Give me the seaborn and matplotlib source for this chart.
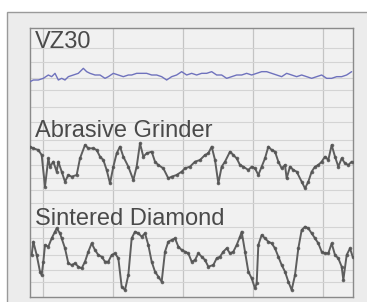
import matplotlib
matplotlib.use("Agg")
import matplotlib.pyplot as plt
import seaborn as sns
import pandas as pd
from matplotlib.patches import Rectangle

# ---- data (positions and profile heights, arbitrary units) ----
vz30_x = [90, 100, 115, 130, 145, 155, 165, 175, 185, 195, 205, 220, 235, 250, 260, 270, 285, 300, 315, 325,
          340, 355, 370, 385, 395, 410, 425, 440, 455, 470, 485, 500, 515, 530, 545, 560, 575, 590, 605, 620,
          635, 650, 665, 680, 695, 710, 725, 740, 755, 770, 785, 800, 815, 830, 845, 860, 875, 890, 905, 920,
          935, 950, 965, 980, 995, 1010, 1025, 1040, 1055]
vz30_h = [-20, -15, -15, -10, 0, -5, 5, -15, -10, -15, -5, 0, 5, 20, 10, 5, 0, 0, -10, -5,
          5, 0, -5, 0, 0, 5, 5, 5, 0, 0, -5, -15, -5, 0, 10, 0, 5, 0, 5, 5,
          10, 0, 0, -10, -5, 0, 0, 5, 0, 5, 10, 10, 5, 0, -5, 5, 0, -5, 0, -5,
          -10, -5, 0, -10, -10, -5, -5, 0, 10]

abr_x = [90, 100, 115, 125, 135, 145, 150, 160, 170, 175, 185, 195, 205, 215, 230, 240, 255, 265, 280, 290,
         300, 310, 320, 330, 340, 350, 360, 370, 385, 400, 410, 420, 430, 440, 455, 465, 475, 490, 505, 515,
         530, 545, 555, 570, 585, 600, 615, 625, 635, 645, 655, 665, 675, 690, 700, 710, 720, 730, 745, 755,
         765, 775, 785, 795, 805, 815, 825, 835, 845, 855, 860, 870, 880, 890, 905, 915, 925, 935, 945, 955,
         965, 975, 985, 995, 1005, 1015, 1025, 1035, 1045, 1055]
abr_h = [60, 55, 50, 35, -60, 25, 0, 15, -15, 15, -15, -45, -25, -30, -25, 25, 65, 55, 55, 50,
         30, 20, -10, -50, 0, 40, 60, 30, 0, -40, 0, 70, 30, 40, 45, 15, 5, -5, -35, -30,
         -25, -15, -5, 0, 15, 20, 35, 40, 60, 20, -50, 0, 15, 45, 35, 25, 5, 0, -10, 0,
         -5, -25, 0, 25, 60, 50, 45, 15, -5, 5, -35, 0, -10, -15, -45, -65, -45, -15, 0, 5,
         15, 30, 20, 65, 30, 0, 25, 10, 5, 15]

sin_x = [95, 100, 110, 120, 125, 130, 135, 145, 155, 165, 170, 180, 185, 195, 205, 215, 225, 235, 245, 255,
         265, 275, 285, 295, 305, 315, 325, 335, 345, 355, 365, 375, 385, 395, 405, 415, 425, 435, 445, 455,
         465, 475, 485, 495, 505, 515, 525, 535, 545, 555, 565, 575, 585, 595, 605, 615, 625, 640, 650, 660,
         670, 680, 690, 700, 710, 720, 725, 735, 745, 755, 765, 770, 775, 785, 795, 805, 815, 825, 835, 845,
         855, 865, 875, 885, 895, 905, 915, 925, 935, 945, 955, 965, 975, 985, 995, 1005, 1015, 1025, 1030, 1040,
         1050, 1058]
sin_h = [0, 40, 0, -50, -60, -20, 30, 25, 50, 70, 80, 65, 50, 20, -25, -30, -25, -35, -40, -20,
         10, 35, 15, 0, -5, -20, -20, 0, 5, -10, -95, -105, -60, 50, 70, 65, 55, 65, 30, -20,
         -50, -65, -80, 10, 40, 45, 50, 25, 15, 10, 5, -20, -15, 5, -5, -15, -35, -30, -10, -5,
         10, 20, 5, 10, 30, 55, 70, 10, -50, -70, -100, -85, 30, 60, 50, 40, 35, 20, -5, -30,
         -50, -80, -105, -60, 20, 75, 85, 80, 65, 50, 35, 10, 5, 5, 35, 0, -10, -35, -75, 0,
         20, -5]

labels = ["VZ30", "Abrasive Grinder", "Sintered Diamond"]

# ---- layout constants ----
W, H = 367, 302
offsets = {"VZ30": 225, "Abrasive Grinder": 500, "Sintered Diamond": 765}
colors = {"VZ30": "#6f72bd", "Abrasive Grinder": "#5e5e5e", "Sintered Diamond": "#5e5e5e"}
label_y = {"VZ30": 145, "Abrasive Grinder": 411, "Sintered Diamond": 675}

frames = []
for name, xs, hs in [("VZ30", vz30_x, vz30_h),
                     ("Abrasive Grinder", abr_x, abr_h),
                     ("Sintered Diamond", sin_x, sin_h)]:
    frames.append(pd.DataFrame({"pos": xs, "height": hs, "sample": name}))
df = pd.concat(frames, ignore_index=True)
df["plot_y"] = df["sample"].map(offsets) - df["height"]

sns.set_theme(style="white")
plt.rcParams["font.family"] = ["Liberation Sans", "DejaVu Sans"]

fig = plt.figure(figsize=(W / 100, H / 100), dpi=100)
fig.patch.set_facecolor("white")
# outer light-grey card
card = Rectangle((7 / W, -0.05), 1.2, (H - 12) / H + 0.05, transform=fig.transFigure,
                 facecolor="#ececec", edgecolor="#9a9a9a", linewidth=1.0, zorder=-10)
fig.add_artist(card)

ax = fig.add_axes([30 / W, 5 / H, 323 / W, 269 / H], zorder=5)
ax.set_facecolor("#f1f1f1")

for name in labels:
    sub = df[df["sample"] == name]
    sns.lineplot(data=sub, x="pos", y="plot_y", ax=ax, sort=False, estimator=None,
                 color=colors[name], linewidth=1.4 if name != "VZ30" else 1.0, legend=False,
                 zorder=3)
    if name != "VZ30":
        ax.plot(sub["pos"], sub["plot_y"], "o", ms=1.6, color="#555555", alpha=0.8, zorder=4)

ax.set_xlim(90, 1059)
ax.set_ylim(891, 84)

ax.set_xticks([130, 340, 550, 760, 970])
ax.set_yticks([144, 186, 234, 270, 321, 366, 420, 450, 495, 534, 570, 609, 681, 714, 765, 810, 846])
ax.grid(True, axis="y", color="#d4d4d4", linewidth=0.8)
ax.grid(True, axis="x", color="#c4c4c4", linewidth=0.9)
ax.tick_params(length=0, labelbottom=False, labelleft=False)
ax.set_xlabel("")
ax.set_ylabel("")
for s in ax.spines.values():
    s.set_color("#8a8a8a")
    s.set_linewidth(1.0)

for name in labels:
    ax.text(105, label_y[name], name, fontsize=17, color="#4a4a4a", ha="left",
            va="baseline", zorder=5)

fig.savefig("out.png", dpi=100)
